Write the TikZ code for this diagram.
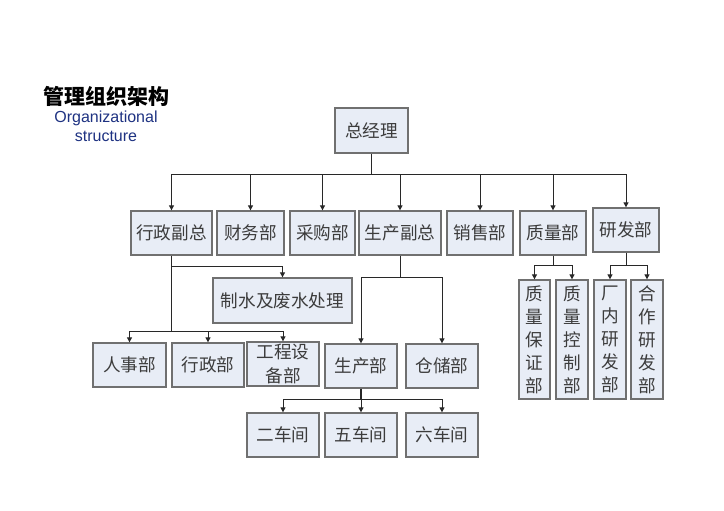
\documentclass[tikz,border=0pt]{standalone}
\usepackage{fontspec}
\setmainfont{Liberation Sans}
\newfontfamily\cjk{Noto Sans CJK SC}
\usetikzlibrary{arrows.meta}
\definecolor{boxfill}{RGB}{232,237,246}
\definecolor{boxline}{RGB}{112,112,112}
\definecolor{txt}{RGB}{60,60,60}
\definecolor{navy}{RGB}{30,50,130}
\definecolor{ln}{RGB}{40,40,40}
\begin{document}
\begin{tikzpicture}[x=1pt,y=-1pt,
  box/.style={draw=boxline, fill=boxfill, line width=1.3pt, inner sep=0pt,
    font=\cjk\fontsize{17.6}{20}\selectfont, text=txt, align=center,
    minimum height=44pt},
  vbox/.style={box, font=\cjk\fontsize{17.6}{23}\selectfont, minimum width=32pt, minimum height=119pt},
  conn/.style={draw=ln, line width=1pt},
  trunk/.style={draw=ln, line width=1.5pt},
  arr/.style={conn, -{Triangle[length=5pt,width=5pt]}},
]
\useasboundingbox (0,0) rectangle (724,511);
\fill[white] (0,0) rectangle (724,511);

% title
\node[font=\cjk\bfseries\fontsize{21}{24}\selectfont] (title) at (106.5,96) {管理组织架构};
\node[font=\fontsize{16}{19}\selectfont, text=navy, align=center] (sub) at (106,126.5) {Organizational\\structure};

% top
\node[box, minimum width=73pt, minimum height=45pt] (gm) at (371.5,130.5) {总经理};

% level 2
\node[box, minimum width=81pt] (xz) at (171.5,233) {行政副总};
\node[box, minimum width=67pt] (cw) at (250.5,233) {财务部};
\node[box, minimum width=65pt] (cg) at (322.5,233) {采购部};
\node[box, minimum width=82pt] (sc) at (400,233) {生产副总};
\node[box, minimum width=66pt] (xs) at (480,233) {销售部};
\node[box, minimum width=66pt] (zl) at (553,233) {质量部};
\node[box, minimum width=66pt] (yf) at (626,230) {研发部};

% under 行政副总
\node[box, minimum width=139pt, minimum height=45pt] (water) at (282.5,300.5) {制水及废水处理};
\node[box, minimum width=73pt] (rs) at (129.5,365) {人事部};
\node[box, minimum width=72pt] (xzb) at (208,365) {行政部};
\node[box, minimum width=72pt, font=\cjk\fontsize{17.6}{24}\selectfont] (gc) at (283,364) {工程设\\备部};

% under 生产副总
\node[box, minimum width=72pt] (scb) at (361,366) {生产部};
\node[box, minimum width=72pt] (cc) at (442,366) {仓储部};
\node[box, minimum width=72pt] (c2) at (283,435) {二车间};
\node[box, minimum width=72pt] (c5) at (361,435) {五车间};
\node[box, minimum width=72pt] (c6) at (442,435) {六车间};

% under 质量部 / 研发部
\node[vbox, minimum width=31pt] (q1) at (534.5,339.5) {质\\量\\保\\证\\部};
\node[vbox] (q2) at (572,339.5) {质\\量\\控\\制\\部};
\node[vbox] (r1) at (610,339.5) {厂\\内\\研\\发\\部};
\node[vbox] (r2) at (647,339.5) {合\\作\\研\\发\\部};

% connectors: top bus
\coordinate (bus) at (371.5,174);
\draw[trunk] (gm.south) -- (bus);
\draw[conn] (bus -| xz.north) -- (bus -| yf.north);
\foreach \n in {xz,cw,cg,sc,xs,zl,yf}
  \draw[arr] (bus -| \n.north) -- (\n.north);

% 行政副总
\coordinate (xb1) at (171.5,266);
\coordinate (xb2) at (171.5,331);
\draw[trunk] (xz.south) -- (xb2);
\draw[arr] (xb1) -| (water.north);
\draw[conn] (xb2 -| rs.north) -- (xb2 -| gc.north);
\foreach \n in {rs,xzb,gc}
  \draw[arr] (xb2 -| \n.north) -- (\n.north);

% 生产副总
\coordinate (sb) at (400,277);
\draw[conn] (sc.south) -- (sb);
\draw[conn] (sb -| scb.north) -- (sb -| cc.north);
\foreach \n in {scb,cc}
  \draw[arr] (sb -| \n.north) -- (\n.north);

% 生产部
\coordinate (pb) at (361,399);
\draw[trunk] (scb.south) -- (pb);
\draw[conn] (pb -| c2.north) -- (pb -| c6.north);
\foreach \n in {c2,c5,c6}
  \draw[arr] (pb -| \n.north) -- (\n.north);

% 质量部
\coordinate (qb) at (553,265);
\draw[conn] (zl.south) -- (qb);
\draw[conn] (qb -| q1.north) -- (qb -| q2.north);
\foreach \n in {q1,q2}
  \draw[arr] (qb -| \n.north) -- (\n.north);

% 研发部
\coordinate (rb) at (626,265);
\draw[conn] (yf.south) -- (rb);
\draw[conn] (rb -| r1.north) -- (rb -| r2.north);
\foreach \n in {r1,r2}
  \draw[arr] (rb -| \n.north) -- (\n.north);
\end{tikzpicture}
\end{document}
